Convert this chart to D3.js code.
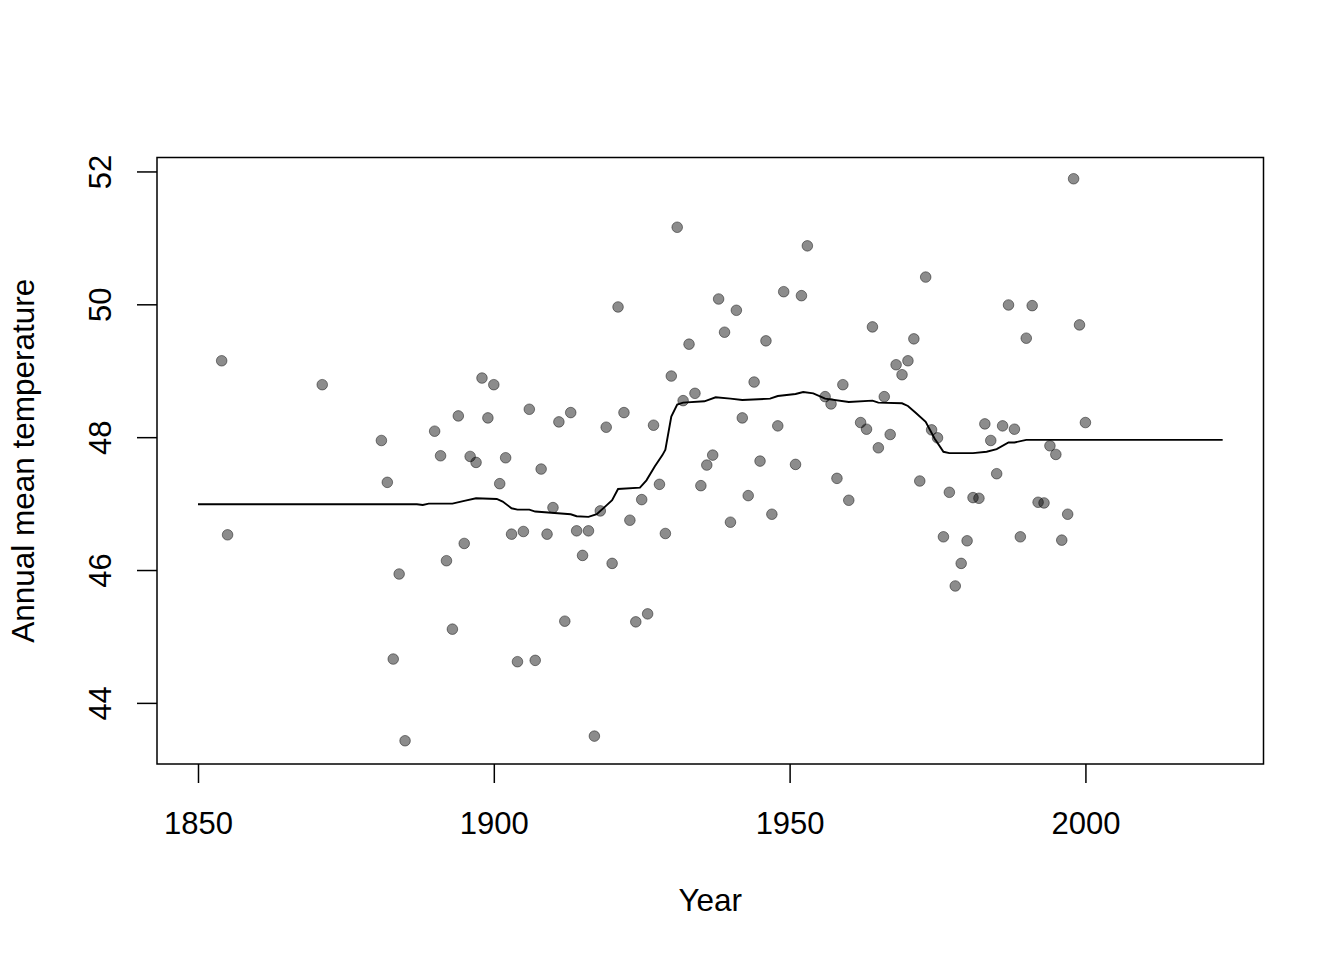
<!DOCTYPE html>
<html>
<head>
<meta charset="utf-8">
<script src="https://cdn.jsdelivr.net/npm/d3@7"></script>
<style>
  body { margin: 0; background: #fff; }
  svg text { font-family: "Liberation Sans", Arial, Helvetica, sans-serif; fill: #000; }
</style>
</head>
<body>
<div id="chart"></div>
<script>
const years = [1854, 1855, 1871, 1881, 1882, 1883, 1884, 1885, 1890, 1891,
  1892, 1893, 1894, 1895, 1896, 1897, 1898, 1899, 1900, 1901,
  1902, 1903, 1904, 1905, 1906, 1907, 1908, 1909, 1910, 1911,
  1912, 1913, 1914, 1915, 1916, 1917, 1918, 1919, 1920, 1921,
  1922, 1923, 1924, 1925, 1926, 1927, 1928, 1929, 1930, 1931,
  1932, 1933, 1934, 1935, 1936, 1937, 1938, 1939, 1940, 1941,
  1942, 1943, 1944, 1945, 1946, 1947, 1948, 1949, 1951, 1952,
  1953, 1956, 1957, 1958, 1959, 1960, 1962, 1963, 1964, 1965,
  1966, 1967, 1968, 1969, 1970, 1971, 1972, 1973, 1974, 1975,
  1976, 1977, 1978, 1979, 1980, 1981, 1982, 1983, 1984, 1985,
  1986, 1987, 1988, 1989, 1990, 1991, 1992, 1993, 1994, 1995,
  1996, 1997, 1998, 1999, 2000]
const temps = [49.15, 46.53, 48.79, 47.95, 47.32, 44.66, 45.94, 43.43, 48.09, 47.72,
  46.14, 45.11, 48.32, 46.40, 47.71, 47.62, 48.89, 48.29, 48.79, 47.30,
  47.69, 46.54, 44.62, 46.58, 48.42, 44.64, 47.52, 46.54, 46.94, 48.23,
  45.23, 48.37, 46.59, 46.22, 46.59, 43.50, 46.89, 48.15, 46.10, 49.96,
  48.37, 46.75, 45.22, 47.06, 45.34, 48.18, 47.29, 46.55, 48.92, 51.16,
  48.55, 49.40, 48.66, 47.27, 47.58, 47.73, 50.08, 49.58, 46.72, 49.91,
  48.29, 47.12, 48.83, 47.64, 49.45, 46.84, 48.17, 50.19, 47.59, 50.13,
  50.88, 48.61, 48.50, 47.38, 48.79, 47.05, 48.22, 48.12, 49.66, 47.84,
  48.61, 48.04, 49.09, 48.94, 49.15, 49.48, 47.34, 50.41, 48.11, 47.99,
  46.50, 47.17, 45.76, 46.10, 46.44, 47.09, 47.08, 48.20, 47.95, 47.45,
  48.17, 49.99, 48.12, 46.50, 49.49, 49.98, 47.02, 47.01, 47.87, 47.74,
  46.45, 46.84, 51.89, 49.69, 48.22]

// smoothed curve
const lineYears = [1850, 1887, 1888, 1889, 1893, 1895, 1897, 1900.5, 1901.5, 1903,
  1904, 1906, 1907, 1913, 1914, 1916, 1917.4, 1919, 1920, 1921,
  1924.7, 1925.8, 1927.2, 1928.5, 1929, 1930, 1931, 1932, 1935.6, 1937.5,
  1940, 1942, 1946.7, 1948, 1951, 1952.3, 1954, 1956, 1960, 1964,
  1965, 1969, 1970, 1971.4, 1973, 1974.5, 1976, 1977, 1981, 1983.3,
  1985, 1987, 1988, 1990, 2023.2]
const lineValues = [46.99, 46.99, 46.98, 47.0, 47.0, 47.04, 47.08, 47.07, 47.03, 46.93,
  46.91, 46.91, 46.88, 46.84, 46.81, 46.80, 46.84, 46.97, 47.05, 47.22,
  47.24, 47.35, 47.56, 47.73, 47.81, 48.31, 48.49, 48.52, 48.54, 48.60,
  48.58, 48.56, 48.58, 48.62, 48.65, 48.68, 48.66, 48.58, 48.53, 48.55,
  48.52, 48.51, 48.47, 48.36, 48.23, 47.98, 47.78, 47.76, 47.76, 47.78,
  47.82, 47.92, 47.92, 47.96, 47.96]

const xTicks = [1850, 1900, 1950, 2000]
const yTicks = [44, 46, 48, 50, 52]

const width = 1344, height = 960
const margin = {top: 157.5, right: 80.5, bottom: 196, left: 157}

const svg = d3.select('#chart').append('svg')
    .attr('width', width)
    .attr('height', height)

const x = d3.scaleLinear()
    .domain([1843.07, 2030.1])
    .range([margin.left, width - margin.right])
const y = d3.scaleLinear()
    .domain([43.08, 52.21])
    .range([height - margin.bottom, margin.top])

// points
svg.append('g')
    .selectAll('circle')
    .data(years.map((yr, i) => [yr, temps[i]]))
    .enter().append('circle')
    .attr('cx', d => x(d[0]))
    .attr('cy', d => y(d[1]))
    .attr('r', 5.3)
    .style('fill', 'rgba(0,0,0,0.45)')
    .style('stroke', 'rgba(0,0,0,0.45)')
    .style('stroke-width', 1)

// smoothed line
const line = d3.line()
    .x(d => x(d[0]))
    .y(d => y(d[1]))
svg.append('path')
    .datum(lineYears.map((yr, i) => [yr, lineValues[i]]))
    .attr('d', line)
    .style('fill', 'none')
    .style('stroke', '#000')
    .style('stroke-width', 1.9)

// axes
const xAxis = svg.append('g')
    .attr('transform', `translate(0,${height - margin.bottom})`)
    .call(d3.axisBottom(x).tickValues(xTicks).tickFormat(d3.format('d'))
        .tickSize(19).tickSizeOuter(0).tickPadding(28.5))
xAxis.select('.domain').remove()
xAxis.selectAll('line').style('stroke', '#000').style('stroke-width', 1.5)
xAxis.selectAll('text').style('font-size', '31px')

const yAxis = svg.append('g')
    .attr('transform', `translate(${margin.left},0)`)
    .call(d3.axisLeft(y).tickValues(yTicks).tickSize(20).tickSizeOuter(0))
yAxis.select('.domain').remove()
yAxis.selectAll('line').style('stroke', '#000').style('stroke-width', 1.5)
yAxis.selectAll('text')
    .attr('x', null)
    .attr('dy', null)
    .attr('transform', 'translate(-46.5,0) rotate(-90)')
    .style('text-anchor', 'middle')
    .style('font-size', '31px')

// box
svg.append('rect')
    .attr('x', margin.left)
    .attr('y', margin.top)
    .attr('width', width - margin.left - margin.right)
    .attr('height', height - margin.top - margin.bottom)
    .style('fill', 'none')
    .style('stroke', '#000')
    .style('stroke-width', 1.5)

// titles
svg.append('text')
    .attr('x', (margin.left + width - margin.right) / 2)
    .attr('y', 910.5)
    .attr('text-anchor', 'middle')
    .style('font-size', '31.5px')
    .text('Year')

svg.append('text')
    .attr('transform', `translate(33.5,${(margin.top + height - margin.bottom) / 2}) rotate(-90)`)
    .attr('text-anchor', 'middle')
    .style('font-size', '31.5px')
    .text('Annual mean temperature')
</script>
</body>
</html>
